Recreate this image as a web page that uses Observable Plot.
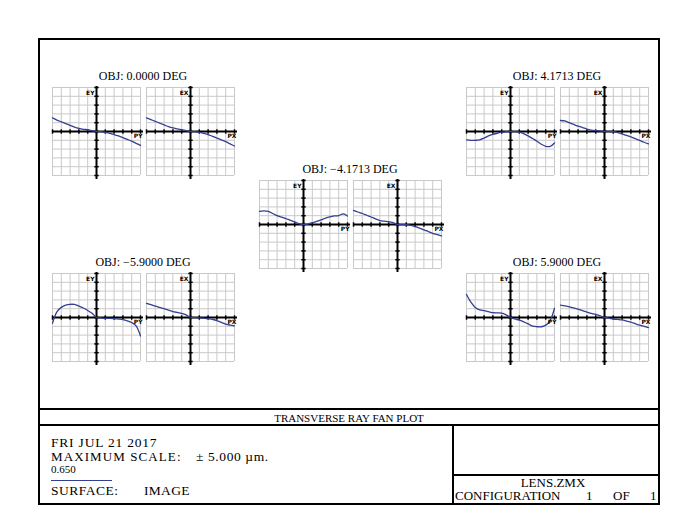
<!DOCTYPE html>
<html><head><meta charset="utf-8">
<script src="https://cdn.jsdelivr.net/npm/d3@7"></script>
<script src="https://cdn.jsdelivr.net/npm/@observablehq/plot@0.6"></script>
<style>
html,body{margin:0;padding:0;background:#fff;}
#page{position:relative;width:700px;height:513px;overflow:hidden;font-family:"Liberation Serif","Times New Roman",serif;color:#000;}
.abs{position:absolute;white-space:nowrap;line-height:1;}
.ln{position:absolute;background:#000;}
.plotbox{position:absolute;}
.plotbox svg{background:transparent !important;overflow:visible;}
</style></head><body><div id="page"></div>
<script>
// ---------------- data ----------------
const PUPIL = [-1, -0.9, -0.8, -0.7, -0.6, -0.5, -0.4, -0.3, -0.2, -0.1, 0, 0.1, 0.2, 0.3, 0.4, 0.5, 0.6, 0.7, 0.8, 0.9, 1];
const X_TICKS = [-1, -0.8, -0.6, -0.4, -0.2, 0, 0.2, 0.4, 0.6, 0.8, 1];
const Y_TICKS = [-5, -4, -3, -2, -1, 0, 1, 2, 3, 4, 5];
const FIELD_LABELS = ["OBJ: 0.0000 DEG", "OBJ: \u22124.1713 DEG", "OBJ: 4.1713 DEG", "OBJ: \u22125.9000 DEG", "OBJ: 5.9000 DEG"];

// transverse aberration (µm) vs normalized pupil
const EY_0    = [1.55, 1.3, 1.1, 0.9, 0.7, 0.5, 0.35, 0.25, 0.2, 0.1, 0, -0.02, -0.1, -0.2, -0.35, -0.5, -0.7, -0.9, -1.1, -1.35, -1.58];
const EX_0    = [1.55, 1.35, 1.15, 0.95, 0.75, 0.55, 0.4, 0.3, 0.2, 0.1, 0, -0.02, -0.1, -0.2, -0.35, -0.55, -0.75, -0.95, -1.15, -1.4, -1.65];
const EY_M417 = [1.5, 1.55, 1.5, 1.25, 1.0, 0.85, 0.68, 0.48, 0.3, 0.1, 0, 0.05, 0.2, 0.35, 0.52, 0.72, 0.87, 0.97, 1.02, 1.2, 0.97];
const EX_M417 = [1.6, 1.42, 1.25, 1.05, 0.85, 0.65, 0.45, 0.38, 0.33, 0.2, 0, -0.01, -0.03, -0.1, -0.25, -0.42, -0.6, -0.8, -1.0, -1.15, -1.3];
const EY_P417 = [-0.95, -1.0, -1.0, -0.95, -0.75, -0.5, -0.33, -0.2, -0.08, -0.03, 0, -0.02, -0.08, -0.25, -0.5, -0.8, -1.1, -1.45, -1.68, -1.7, -1.3];
const EX_P417 = [1.25, 1.2, 1.0, 0.8, 0.6, 0.45, 0.28, 0.15, 0.1, 0.08, 0, 0, -0.03, -0.12, -0.28, -0.45, -0.62, -0.82, -1.02, -1.22, -1.4];
const EY_M59  = [-0.65, 0.65, 1.15, 1.4, 1.5, 1.48, 1.3, 1.08, 0.8, 0.47, 0, -0.05, -0.1, -0.1, -0.12, -0.18, -0.25, -0.38, -0.57, -0.95, -2.1];
const EX_M59  = [1.6, 1.45, 1.28, 1.14, 1.0, 0.84, 0.68, 0.57, 0.47, 0.3, 0, -0.02, -0.05, -0.08, -0.12, -0.22, -0.35, -0.55, -0.74, -0.86, -0.95];
const EY_P59  = [2.62, 1.75, 1.15, 0.87, 0.77, 0.66, 0.55, 0.52, 0.5, 0.3, 0, -0.17, -0.3, -0.5, -0.73, -0.98, -1.05, -1.05, -0.87, -0.35, 1.05];
const EX_P59  = [1.4, 1.32, 1.22, 1.08, 0.94, 0.77, 0.6, 0.47, 0.35, 0.2, 0, -0.08, -0.17, -0.22, -0.28, -0.4, -0.52, -0.7, -0.87, -1.0, -1.15];

const SERIES = [[EY_0, EX_0], [EY_M417, EX_M417], [EY_P417, EX_P417], [EY_M59, EX_M59], [EY_P59, EX_P59]];

// ---------------- layout ----------------
const LAYOUT = [ {x: 52, y: 87}, {x: 259, y: 180}, {x: 466, y: 87}, {x: 52, y: 273}, {x: 466, y: 273} ];
const GRID = 88, PAIR_DX = 94;
const M = {l: 4, r: 6, t: 4, b: 6};
const CURVE = "#353f8f";

const page = document.getElementById("page");

function txt(str, x, baseline, size, extra = {}) {
  const d = document.createElement("div");
  d.className = "abs";
  d.textContent = str;
  d.style.fontSize = size + "px";
  d.style.top = (baseline - 0.8375 * size) + "px";
  if (extra.center) { d.style.left = (x - 150) + "px"; d.style.width = "300px"; d.style.textAlign = "center"; }
  else d.style.left = x + "px";
  if (extra.ls) d.style.letterSpacing = extra.ls + "px";
  page.appendChild(d);
}
function rect(l, t, w, h, color = "#000") {
  const d = document.createElement("div");
  d.className = "ln";
  Object.assign(d.style, {left: l + "px", top: t + "px", width: w + "px", height: h + "px", background: color});
  page.appendChild(d);
}

const vTick = {draw(ctx, size) { const r = Math.sqrt(size / Math.PI); ctx.moveTo(0, -r); ctx.lineTo(0, r); }};
const hTick = {draw(ctx, size) { const r = Math.sqrt(size / Math.PI); ctx.moveTo(-r, 0); ctx.lineTo(r, 0); }};

function fan(values, tangential) {
  const data = PUPIL.map((p, i) => ({p, v: values[i]}));
  return Plot.plot({
    width: GRID + M.l + M.r, height: GRID + M.t + M.b,
    marginLeft: M.l, marginRight: M.r, marginTop: M.t, marginBottom: M.b,
    x: {domain: [-1, 1], axis: null},
    y: {domain: [-5, 5], axis: null},
    style: {background: "transparent", overflow: "visible"},
    marks: [
      Plot.ruleX(X_TICKS, {x: d => d, stroke: "#c9c9c9", strokeWidth: 1}),
      Plot.ruleY(Y_TICKS, {y: d => d, stroke: "#c9c9c9", strokeWidth: 1}),
      Plot.ruleX([0], {x: d => d, stroke: "#000", strokeWidth: 2, insetTop: -1, insetBottom: -4}),
      Plot.ruleY([0], {y: d => d, stroke: "#000", strokeWidth: 2, insetRight: -3}),
      Plot.dot(X_TICKS, {x: d => d, y: () => 0, symbol: vTick, r: 2.2, fill: "none", stroke: "#000", strokeWidth: 1.5}),
      Plot.dot(Y_TICKS, {x: () => 0, y: d => d, symbol: hTick, r: 2.2, fill: "none", stroke: "#000", strokeWidth: 1.5}),
      Plot.line(data, {x: "p", y: "v", stroke: CURVE, strokeWidth: 1.3, curve: "catmull-rom"}),
      Plot.text([tangential ? "EY" : "EX"], {text: d => d, frameAnchor: "top", textAnchor: "end", dx: -2, dy: 3, fontSize: 6, fontWeight: "bold", fontFamily: "DejaVu Sans", fill: "#000"}),
      Plot.text([tangential ? "PY" : "PX"], {text: d => d, frameAnchor: "right", textAnchor: "end", dx: 2, dy: 5, fontSize: 6, fontWeight: "bold", fontFamily: "DejaVu Sans", fill: "#000"})
    ]
  });
}

SERIES.forEach(([ey, ex], k) => {
  const L = LAYOUT[k];
  [[ey, true, 0], [ex, false, PAIR_DX]].forEach(([vals, tan, off]) => {
    const box = document.createElement("div");
    box.className = "plotbox";
    box.style.left = (L.x + off - M.l) + "px";
    box.style.top = (L.y - M.t) + "px";
    box.appendChild(fan(vals, tan));
    page.appendChild(box);
  });
  txt(FIELD_LABELS[k], L.x + (GRID + PAIR_DX) / 2, L.y - 7, 12, {center: true});
});

// ---------------- frame & title block ----------------
const fr = document.createElement("div");
Object.assign(fr.style, {position: "absolute", left: "38px", top: "38px", width: "622px", height: "467px", border: "2px solid #000", boxSizing: "border-box"});
page.appendChild(fr);
rect(38, 408, 622, 2);
rect(38, 424, 622, 2);
rect(452, 425, 2, 80);
rect(452, 474, 208, 2);

txt("TRANSVERSE RAY FAN PLOT", 349, 422, 11, {center: true});
txt("FRI JUL 21 2017", 51, 447.5, 13.5, {ls: 0.8});
txt("MAXIMUM SCALE:", 51, 461, 13, {ls: 1.1});
txt("\u00B1 5.000 \u00B5m.", 196, 461, 13.5, {ls: 0.6});
txt("0.650", 51, 473.5, 11);
rect(51, 479.5, 61, 1.6, CURVE);
txt("SURFACE:", 51, 495, 13.5, {ls: 0.5});
txt("IMAGE", 144, 495, 13.5, {ls: 0.3});
txt("LENS.ZMX", 553, 487, 13, {center: true});
txt("CONFIGURATION", 455, 500, 13);
txt("1", 586, 500, 13);
txt("OF", 613, 500, 13);
txt("1", 650, 500, 13);
</script></body></html>
